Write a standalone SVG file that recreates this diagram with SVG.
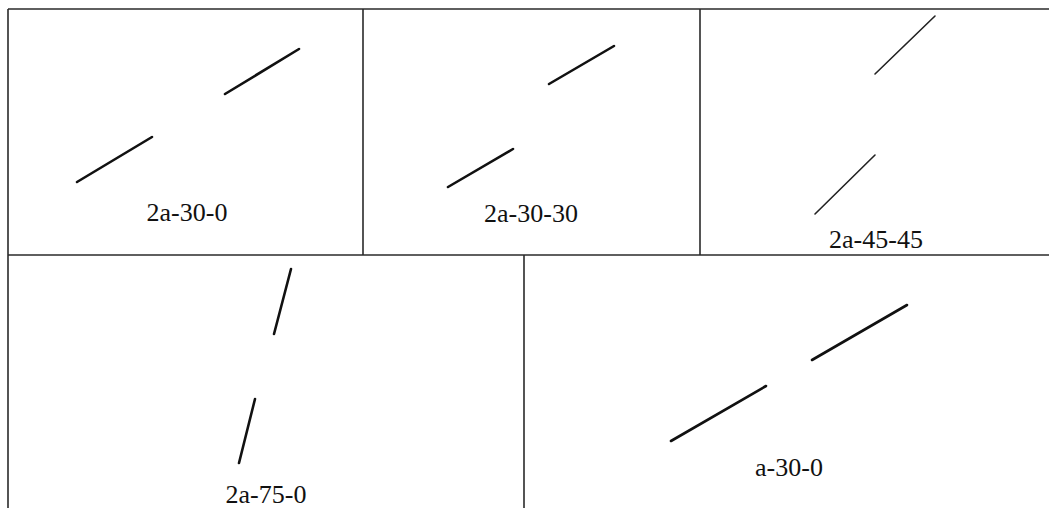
<svg xmlns="http://www.w3.org/2000/svg" width="1049" height="508" viewBox="0 0 1049 508">
<style>
.grid{stroke:#2a2a2a;stroke-width:1.6;fill:none}
.seg{stroke:#111;stroke-width:2.6;stroke-linecap:round}
.thin{stroke:#222;stroke-width:1.6;stroke-linecap:round}
.lbl{font-family:"Liberation Serif","Times New Roman",serif;font-size:26px;fill:#111;text-anchor:middle}
</style>
<rect width="1049" height="508" fill="#fff"/>
<g id="table">
<line class="grid" x1="8" y1="9" x2="1049" y2="9"/>
<line class="grid" x1="8" y1="9" x2="8" y2="508"/>
<line class="grid" x1="363" y1="9" x2="363" y2="255"/>
<line class="grid" x1="700" y1="9" x2="700" y2="255"/>
<line class="grid" x1="8" y1="255" x2="1049" y2="255"/>
<line class="grid" x1="524" y1="255" x2="524" y2="508"/>
</g>
<g id="panel1">
<line class="seg" x1="77" y1="182" x2="152" y2="137"/>
<line class="seg" x1="225" y1="94" x2="299" y2="49"/>
<text class="lbl" x="187" y="221">2a-30-0</text>
</g>
<g id="panel2">
<line class="seg" x1="448" y1="187" x2="513" y2="149"/>
<line class="seg" x1="549" y1="84" x2="614" y2="46"/>
<text class="lbl" x="531" y="222">2a-30-30</text>
</g>
<g id="panel3">
<line class="thin" x1="815" y1="214" x2="875" y2="155"/>
<line class="thin" x1="875" y1="74" x2="935" y2="16"/>
<text class="lbl" x="876" y="248">2a-45-45</text>
</g>
<g id="panel4">
<line class="seg" x1="291" y1="269" x2="274" y2="334"/>
<line class="seg" x1="255" y1="399" x2="239" y2="463"/>
<text class="lbl" x="266" y="503">2a-75-0</text>
</g>
<g id="panel5">
<line class="seg" x1="671" y1="441" x2="766" y2="386"/>
<line class="seg" x1="812" y1="360" x2="907" y2="305"/>
<text class="lbl" x="789" y="476">a-30-0</text>
</g>
</svg>
